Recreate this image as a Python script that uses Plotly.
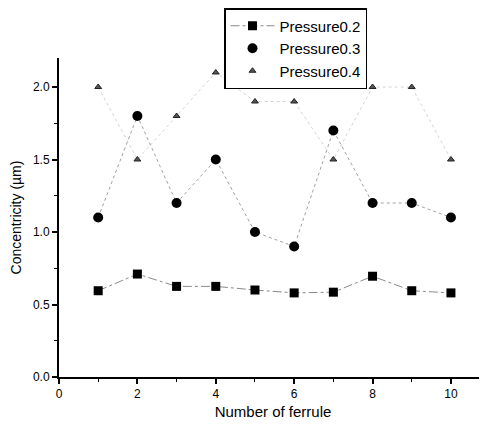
import plotly.graph_objects as go

ferrule = [1, 2, 3, 4, 5, 6, 7, 8, 9, 10]
p02 = [0.595, 0.71, 0.625, 0.625, 0.60, 0.58, 0.585, 0.695, 0.595, 0.58]
p03 = [1.1, 1.8, 1.2, 1.5, 1.0, 0.9, 1.7, 1.2, 1.2, 1.1]
p04 = [2.0, 1.5, 1.8, 2.1, 1.9, 1.9, 1.5, 2.0, 2.0, 1.5]
names = ["Pressure0.2", "Pressure0.3", "Pressure0.4"]

fig = go.Figure()
fig.add_trace(go.Scatter(x=ferrule, y=p04, mode="lines", showlegend=False,
                         line=dict(color="#d4d4d4", width=1, dash="dot"), hoverinfo="skip"))
fig.add_trace(go.Scatter(x=ferrule, y=p03, mode="lines", showlegend=False,
                         line=dict(color="#a0a0a0", width=1, dash="dot"), hoverinfo="skip"))

fig.add_trace(go.Scatter(x=ferrule, y=p02, mode="lines+markers", name=names[0],
                         line=dict(color="#8a8a8a", width=1, dash="dashdot"),
                         marker=dict(symbol="square", size=9, color="black")))
fig.add_trace(go.Scatter(x=ferrule, y=p03, mode="markers", name=names[1],
                         marker=dict(symbol="circle", size=10, color="black")))
fig.add_trace(go.Scatter(x=ferrule, y=p04, mode="markers", name=names[2],
                         marker=dict(symbol="triangle-up", size=6, color="#555555",
                                     line=dict(color="#222222", width=1))))

axis_common = dict(showline=True, linecolor="black", linewidth=2, ticks="outside",
                   tickcolor="black", tickwidth=1.5, ticklen=5, showgrid=False,
                   zeroline=False, mirror=False, automargin=False,
                   tickfont=dict(family="Liberation Sans, Arial", size=12, color="black"))

fig.update_layout(
    width=479, height=420,
    margin=dict(l=51, r=0, t=50, b=51),
    paper_bgcolor="white", plot_bgcolor="white",
    xaxis=dict(range=[0, 10.92], tickmode="array", tickvals=[0, 2, 4, 6, 8, 10],
               ticktext=["0", "2", "4", "6", "8", "10"],
               minor=dict(tickvals=[1, 3, 5, 7, 9], ticks="outside", ticklen=3,
                          tickcolor="black", tickwidth=1),
               title=dict(text="Number of ferrule", standoff=6,
                          font=dict(family="Liberation Sans, Arial", size=15, color="black")),
               **axis_common),
    yaxis=dict(range=[0, 2.2], tickmode="array", tickvals=[0, 0.5, 1.0, 1.5, 2.0],
               ticktext=["0.0", "0.5", "1.0", "1.5", "2.0"],
               minor=dict(tickvals=[0.25, 0.75, 1.25, 1.75], ticks="outside", ticklen=3,
                          tickcolor="black", tickwidth=1),
               title=dict(text="Concentricity (µm)", standoff=8,
                          font=dict(family="Liberation Sans, Arial", size=14, color="black")),
               **axis_common),
    legend=dict(x=(216 - 51) / 428, y=1 + 50 / 319, xanchor="left", yanchor="top",
                bordercolor="black", borderwidth=1.5, bgcolor="white",
                font=dict(family="Liberation Sans, Arial", size=15, color="black"),
                tracegroupgap=0, itemwidth=44),
    showlegend=True,
)

fig.write_html("out.html")
